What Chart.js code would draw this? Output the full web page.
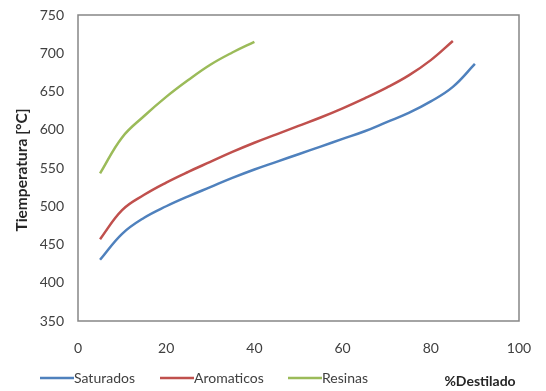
<!DOCTYPE html>
<html>
<head>
<meta charset="utf-8">
<script src="https://cdn.jsdelivr.net/npm/chart.js@4/dist/chart.umd.min.js"></script>
<style>
  html, body { margin: 0; padding: 0; background: #fff; }
  #wrap { width: 546px; height: 391px; position: relative; }
</style>
</head>
<body>
<div id="wrap"><canvas id="c" width="546" height="391"></canvas></div>
<script>
// Temperatura de destilación simulada por fracción SARA
const destSaturados  = [5, 10, 15, 20, 25, 30, 35, 40, 45, 50, 55, 60, 65, 70, 75, 80, 85, 90];
const tempSaturados  = [430, 464, 485, 500, 513, 525, 537, 548, 558, 568, 578, 588, 598, 610, 622, 637, 656, 686];
const destAromaticos = [5, 10, 15, 20, 25, 30, 35, 40, 45, 50, 55, 60, 65, 70, 75, 80, 85];
const tempAromaticos = [457, 495, 515, 531, 545, 558, 571, 583, 594, 605, 616, 628, 641, 655, 671, 691, 716];
const destResinas    = [5, 10, 15, 20, 25, 30, 35, 40];
const tempResinas    = [543, 590, 618, 643, 665, 685, 701, 715];

const seriesNames = ['Saturados', 'Aromaticos', 'Resinas'];
const seriesColors = ['#4F81BD', '#C0504D', '#9BBB59'];
const xTicks = [0, 20, 40, 60, 80, 100];
const yTicks = [350, 400, 450, 500, 550, 600, 650, 700, 750];
const xTitle = '%Destilado';
const yTitle = 'Tiemperatura [°C]';

const FONT = "Lato, 'Open Sans', sans-serif";

function toPoints(xs, ys) { return xs.map((x, i) => ({ x: x, y: ys[i] })); }

const dataSets = [
  toPoints(destSaturados, tempSaturados),
  toPoints(destAromaticos, tempAromaticos),
  toPoints(destResinas, tempResinas)
];

// Marco del área de trazado, título del eje Y, leyenda y título del eje X
const decorations = {
  id: 'decorations',
  afterDraw(chart) {
    const ctx = chart.ctx;
    const a = chart.chartArea;
    ctx.save();
    ctx.strokeStyle = '#868686';
    ctx.lineWidth = 1.5;
    ctx.strokeRect(a.left, a.top, a.right - a.left, a.bottom - a.top);

    // título eje Y
    ctx.fillStyle = '#262626';
    ctx.font = "bold 15.5px " + FONT;
    ctx.textAlign = 'center';
    ctx.textBaseline = 'middle';
    ctx.translate(22, 170);
    ctx.rotate(-Math.PI / 2);
    ctx.fillText(yTitle, 0, 0);
    ctx.restore();

    // leyenda
    ctx.save();
    ctx.font = "14px " + FONT;
    ctx.textBaseline = 'middle';
    ctx.textAlign = 'left';
    const legY = 378;
    const legX = [40, 160, 288];
    seriesNames.forEach((name, i) => {
      ctx.strokeStyle = seriesColors[i];
      ctx.lineWidth = 2.5;
      ctx.beginPath();
      ctx.moveTo(legX[i], legY);
      ctx.lineTo(legX[i] + 34, legY);
      ctx.stroke();
      ctx.fillStyle = '#404040';
      ctx.fillText(name, legX[i] + 34, legY);
    });

    // título eje X
    ctx.font = "bold 14px " + FONT;
    ctx.fillStyle = '#262626';
    ctx.textAlign = 'center';
    ctx.fillText(xTitle, 480, legY + 3);
    ctx.restore();
  }
};

new Chart(document.getElementById('c'), {
  type: 'line',
  data: {
    datasets: dataSets.map((pts, i) => ({
      label: seriesNames[i],
      data: pts,
      borderColor: seriesColors[i],
      backgroundColor: seriesColors[i],
      borderWidth: 2.5,
      pointRadius: 0,
      fill: false,
      tension: 0.4
    }))
  },
  options: {
    responsive: false,
    animation: false,
    layout: { padding: { top: 15, right: 27, bottom: 0, left: 0 } },
    plugins: { legend: { display: false }, tooltip: { enabled: false } },
    scales: {
      x: {
        type: 'linear',
        min: 0, max: 100,
        afterBuildTicks(s) { s.ticks = xTicks.map(v => ({ value: v })); },
        afterFit(s) { s.height = 70; s.paddingLeft = 0; s.paddingRight = 0; },
        grid: { display: false, drawTicks: false },
        border: { display: false },
        ticks: { padding: 19, color: '#404040', font: { family: FONT, size: 14 } }
      },
      y: {
        type: 'linear',
        min: 350, max: 750,
        afterBuildTicks(s) { s.ticks = yTicks.map(v => ({ value: v })); },
        afterFit(s) { s.width = 78; s.paddingTop = 0; s.paddingBottom = 0; },
        grid: { display: false, drawTicks: false },
        border: { display: false },
        ticks: { padding: 14, color: '#404040', font: { family: FONT, size: 14 } }
      }
    }
  },
  plugins: [decorations]
});
</script>
</body>
</html>
